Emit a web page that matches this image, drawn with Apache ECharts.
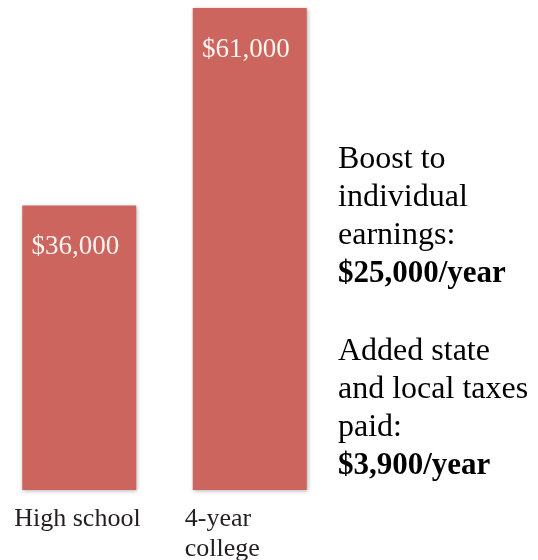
<!DOCTYPE html>
<html>
<head>
<meta charset="utf-8">
<script src="https://cdn.jsdelivr.net/npm/echarts@6/dist/echarts.min.js"></script>
<style>
    html, body { margin: 0; padding: 0; background: #fff; }
    #main { width: 538px; height: 560px; }
</style>
</head>
<body>
<div id="main"></div>
<script>
// 数据
var categories = ['High school', '4-year\ncollege'];
var earnings = [36000, 61000];
var noteLines1 = ['Boost to', 'individual', 'earnings:'];
var noteBold1 = '$25,000/year';
var noteLines2 = ['Added state', 'and local taxes', 'paid:'];
var noteBold2 = '$3,900/year';

var serif = '"Liberation Serif", "Times New Roman", serif';

// 右侧说明文字
var noteText = function (lines, bold) {
    return lines.map(function (s) { return '{n|' + s + '}'; }).join('\n') + '\n{b|' + bold + '}';
};
var noteRich = {
    n: { fontFamily: serif, fontSize: 32, lineHeight: 38, color: '#231f20' },
    b: { fontFamily: serif, fontSize: 31, lineHeight: 38, fontWeight: 'bold', color: '#231f20' }
};

var my_chart = echarts.init(document.getElementById('main'));
var option = {
    animation: false,
    grid: { left: -6, width: 341, top: 8, bottom: 70, outerBoundsMode: 'none' },
    xAxis: {
        type: 'category',
        data: categories,
        axisLine: { show: false },
        axisTick: { show: false },
        axisLabel: {
            margin: 14,
            formatter: function (label) {
                return label.split('\n').map(function (s) { return '{a|' + s + '}'; }).join('\n');
            },
            rich: {
                a: { width: 130, align: 'left', fontFamily: serif, fontSize: 26, lineHeight: 30, color: '#231f20' }
            }
        }
    },
    yAxis: {
        type: 'value',
        min: 0,
        max: 61000,
        show: false,
        splitLine: { show: false }
    },
    series: [{
        type: 'bar',
        barWidth: 114,
        data: earnings,
        itemStyle: {
            color: '#cc655e',
            shadowBlur: 4,
            shadowOffsetX: 1,
            shadowOffsetY: 1,
            shadowColor: 'rgba(0,0,0,0.3)'
        },
        label: {
            show: true,
            position: 'insideTop',
            distance: 28,
            offset: [-4, 0],
            fontFamily: serif,
            fontSize: 27,
            color: '#fdf3f1',
            formatter: function (p) {
                return '$' + p.value.toLocaleString('en-US');
            }
        }
    }],
    graphic: [
        {
            type: 'text',
            left: 338,
            top: 144,
            style: { text: noteText(noteLines1, noteBold1), rich: noteRich }
        },
        {
            type: 'text',
            left: 338,
            top: 336,
            style: { text: noteText(noteLines2, noteBold2), rich: noteRich }
        }
    ]
};
my_chart.setOption(option);
</script>
</body>
</html>
